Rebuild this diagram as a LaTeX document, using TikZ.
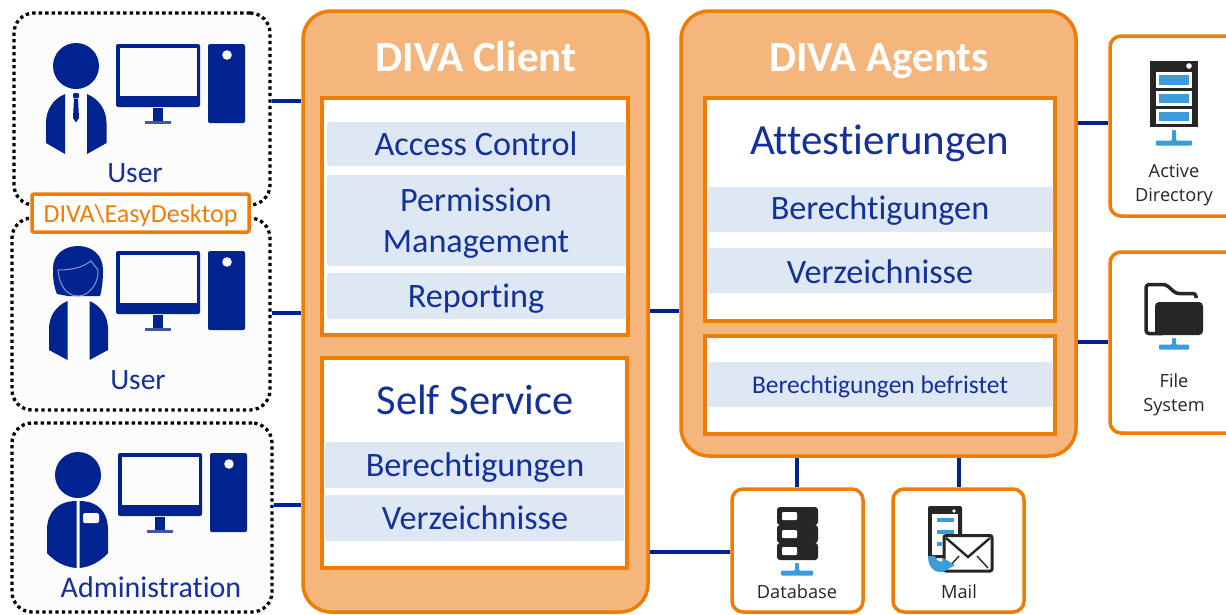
\documentclass[tikz,border=0pt]{standalone}
\usepackage{fontspec}
\setmainfont[Ligatures=NoCommon]{Carlito}
\newfontfamily\iconlabel{Open Sans}
\definecolor{frameorange}{HTML}{F17C05}
\definecolor{panelfill}{HTML}{F4B67C}
\definecolor{barfill}{HTML}{DDE8F4}
\definecolor{navyicon}{HTML}{00238F}
\definecolor{navytext}{HTML}{14309A}
\definecolor{darkicon}{HTML}{262626}
\definecolor{netblue}{HTML}{3C9BD9}
\definecolor{softwhite}{HTML}{FCFCFD}
\newcommand{\fsz}[1]{\fontsize{#1}{#1}\selectfont}
% name, style, x1, y1, x2, y2
\newcommand{\boxat}[7][]{%
  \pgfmathsetmacro{\bw}{#5-#3}\pgfmathsetmacro{\bh}{#6-#4}%
  \pgfmathsetmacro{\bx}{(#3+#5)/2}\pgfmathsetmacro{\by}{(#4+#6)/2}%
  \node[#2,minimum width=\bw pt,minimum height=\bh pt,#1] (#7) at (\bx,\by) {};}
\newcommand{\netglyph}[4]{%
  \fill[netblue,rounded corners=0.8] (#1-2,#2) -- (#1+2,#2) -- (#1+2,#3-2.5) -- (#1+#4,#3-2.5) -- (#1+#4,#3+2.5) -- (#1-#4,#3+2.5) -- (#1-#4,#3-2.5) -- (#1-2,#3-2.5) -- cycle;}
\tikzset{
  x=1pt,y=-1pt,
  userframe/.style={draw=black,fill=softwhite,line width=3.3pt,dash pattern=on 3.3pt off 3.2pt,rounded corners=20pt,inner sep=0pt},
  panel/.style={draw=frameorange,fill=panelfill,line width=3.5pt,rounded corners=28pt,inner sep=0pt},
  section/.style={draw=frameorange,fill=white,line width=3.5pt,inner sep=0pt},
  bar/.style={fill=barfill,rounded corners=2pt,inner sep=0pt},
  source/.style={draw=frameorange,fill=white,line width=3.5pt,rounded corners=11pt,inner sep=0pt},
  tag/.style={draw=frameorange,fill=white,line width=3.5pt,rounded corners=2pt,inner sep=0pt},
  link/.style={draw=navyicon,line width=3.3pt},
  navylabel/.style={text=navytext,inner sep=0pt,align=center,anchor=base},
  panelhead/.style={text=white,inner sep=0pt,anchor=base,font=\bfseries\fsz{43}},
  iconcaption/.style={text=darkicon,inner sep=0pt,anchor=base,font=\iconlabel\fsz{18.2}},
  workstation/.pic={
    \fill[navyicon,rounded corners=2pt] (116,44) rectangle (200,107);
    \fill[softwhite] (120,48) rectangle (197,96);
    \fill[navyicon] (153,108) rectangle (163,121);
    \fill[navyicon,opacity=.75] (145,121) rectangle (171,123.5);
    \fill[navyicon,rounded corners=1.5pt] (208,44) rectangle (245,123);
    \fill[softwhite] (227,55) circle (4.8);
  }
}
\begin{document}
\begin{tikzpicture}
\useasboundingbox (0,0) rectangle (1226,614);
\clip (0,0) rectangle (1226,614);
\fill[white] (0,0) rectangle (1226,614);

% user frames
\boxat{userframe}{14}{13}{270}{205}{userA}
\boxat{userframe}{12}{218}{270}{410}{userB}
\boxat{userframe}{12}{423}{272}{612}{admin}

% panels
\boxat{panel}{303}{11}{648}{612}{client}
\boxat{panel}{681}{11}{1076}{456}{agents}
\boxat{section}{322}{98}{628}{335}{clientA}
\boxat{section}{322}{358}{627}{568}{clientB}
\boxat{section}{705}{98}{1055}{321}{agentsA}
\boxat{section}{705}{336}{1055}{434}{agentsB}

% bars
\boxat{bar}{327}{122}{626}{166}{barAccess}
\boxat{bar}{327}{175}{626}{266}{barPerm}
\boxat{bar}{327}{273}{626}{319}{barRep}
\boxat{bar}{325}{442}{624}{488}{barBer}
\boxat{bar}{325}{495}{624}{541}{barVer}
\boxat{bar}{708}{187}{1053}{232}{barBerA}
\boxat{bar}{708}{248}{1053}{293}{barVerA}
\boxat{bar}{708}{362}{1053}{407}{barBef}

% source boxes
\boxat{source}{1110}{36}{1260}{216}{ad}
\boxat{source}{1110}{252}{1260}{433}{fs}
\boxat{source}{732}{489}{863}{612}{db}
\boxat{source}{893}{489}{1024}{612}{mail}
\boxat{tag}{32}{194}{249}{232}{easy}

% connector heights and columns
\coordinate (rowA) at (0,101);
\coordinate (rowB) at (0,313);
\coordinate (rowC) at (0,505);
\coordinate (rowD) at (0,311);
\coordinate (rowE) at (0,552);
\coordinate (rowF) at (0,123);
\coordinate (rowG) at (0,342);
\coordinate (colA) at (797,0);
\coordinate (colB) at (959,0);

\draw[link] (userA.east |- rowA) -- (client.west |- rowA);
\draw[link] (userB.east |- rowB) -- (client.west |- rowB);
\draw[link] (admin.east |- rowC) -- (client.west |- rowC);
\draw[link] (client.east |- rowD) -- (agents.west |- rowD);
\draw[link] (client.east |- rowE) -- (db.west |- rowE);
\draw[link] (agents.east |- rowF) -- (ad.west |- rowF);
\draw[link] (agents.east |- rowG) -- (fs.west |- rowG);
\draw[link] (agents.south -| colA) -- (db.north -| colA);
\draw[link] (agents.south -| colB) -- (mail.north -| colB);

% panel texts
\node[panelhead] (tClient) at (476,71) {DIVA Client};
\node[panelhead] (tAgents) at (879,71) {DIVA Agents};
\node[navylabel,font=\fsz{34.2}] (tAccess) at (476,155.5) {Access Control};
\node[navylabel,font=\fsz{34.2}] (tPerm) at (476,211.5) {Permission};
\node[navylabel,font=\fsz{34.2}] (tMan) at (476,252.5) {Management};
\node[navylabel,font=\fsz{34.2}] (tRep) at (476,307.5) {Reporting};
\node[navylabel,font=\fsz{42.5}] (tSelf) at (475,414) {Self Service};
\node[navylabel,font=\fsz{34.2}] (tBer) at (475,476.5) {Berechtigungen};
\node[navylabel,font=\fsz{34.2}] (tVer) at (475,529.5) {Verzeichnisse};
\node[navylabel,font=\fsz{43}] (tAtt) at (879.5,154) {Attestierungen};
\node[navylabel,font=\fsz{34.2}] (tBerA) at (880,219.5) {Berechtigungen};
\node[navylabel,font=\fsz{34.2}] (tVerA) at (880,283.5) {Verzeichnisse};
\node[navylabel,font=\fsz{25.5}] (tBef) at (880,393) {Berechtigungen befristet};
\node[navylabel,text=frameorange,font=\fsz{26}] (tEasy) at (140.5,222) {DIVA\textbackslash EasyDesktop};
\node[navylabel,font=\fsz{29.5}] (tUserA) at (135,182.5) {User};
\node[navylabel,font=\fsz{29.5}] (tUserB) at (138,389) {User};
\node[navylabel,font=\fsz{30}] (tAdmin) at (151,597.5) {Administration};

\node[iconcaption] (cAd) at (1174,177) {Active};
\node[iconcaption] (cAd2) at (1174,201) {Directory};
\node[iconcaption] (cFs) at (1174,387) {File};
\node[iconcaption] (cFs2) at (1174,411) {System};
\node[iconcaption] (cDb) at (797,598) {Database};
\node[iconcaption] (cMail) at (959,598) {Mail};

% workstations
\pic at (0,0) {workstation};
\pic at (0,207) {workstation};
\pic at (2,409) {workstation};

% man with tie
\fill[navyicon] (76,66) circle (23);
\fill[navyicon] (65,94) -- (65,154) -- (46,143) -- (46,123) .. controls (46,110) and (53,99) .. (65,94) -- cycle;
\fill[navyicon] (87,94) -- (87,154) -- (106.5,143) -- (106.5,123) .. controls (106.5,110) and (99,99) .. (87,94) -- cycle;
\fill[navyicon,rounded corners=1pt] (73,93) rectangle (79,98);
\fill[navyicon] (74,98.5) -- (78,98.5) -- (79,118) -- (76,122.5) -- (73,118) -- cycle;

% woman
\fill[navyicon] (57,294) .. controls (53,285) and (53,275) .. (53,268) .. controls (53,254) and (65,246) .. (78,246) .. controls (92,246) and (103,255) .. (103,270) .. controls (103,280) and (102,290) .. (100,296) -- (88,296) -- (68,296) -- cycle;
\draw[softwhite!55!navyicon,line width=1pt,fill=navyicon] (58,270) .. controls (70,270) and (82,268) .. (91,261) -- (98,270) .. controls (99,282) and (90,296) .. (78,296) .. controls (66,296) and (59,284) .. (58,270) -- cycle;
\fill[navyicon] (67.5,301) -- (67.5,360) -- (49,350) -- (49,329) .. controls (49,316) and (56,306) .. (67.5,301) -- cycle;
\fill[navyicon] (89.5,301) -- (89.5,360) -- (108,350) -- (108,329) .. controls (108,316) and (101,306) .. (89.5,301) -- cycle;

% administrator
\fill[navyicon] (78,475) circle (23);
\fill[navyicon] (76.5,501) .. controls (58,501) and (47,512) .. (47,530) -- (47,553) .. controls (55,562) and (65,567) .. (76.5,568) -- cycle;
\fill[navyicon] (79.5,501) .. controls (98,501) and (108,512) .. (108,530) -- (108,553) .. controls (100,562) and (90,567) .. (79.5,568) -- cycle;
\fill[softwhite,rounded corners=1.5pt] (83,513) rectangle (99,523);

% Active Directory icon
\fill[darkicon] (1150,61) rectangle (1198,127);
\fill[white] (1189,66) circle (2.8);
\foreach \ya/\yb in {72/88,91/106,109/124}{
  \fill[white] (1156,\ya) rectangle (1192,\yb);
  \fill[netblue] (1159,\ya+2.5) rectangle (1189,\yb-3);
}
\netglyph{1174}{130}{143}{18}

% folder icon
\draw[darkicon,line width=3.5pt,line join=round,rounded corners=3pt] (1162,333.5) -- (1146,333.5) -- (1146,284.5) -- (1166,284.5) -- (1176,293.5) -- (1196,293.5) -- (1196,298);
\fill[darkicon,rounded corners=4pt] (1155,302) rectangle (1203,335);
\netglyph{1174}{338}{347}{15}

% database icon
\foreach \ya/\yb in {507/525,525/543,543/560}{
  \fill[darkicon,rounded corners=3pt] (777,\ya) rectangle (818,\yb);
}
\foreach \ya in {512,530,547}{
  \fill[white,rounded corners=1pt] (782,\ya) rectangle (797,\ya+8);
}
\netglyph{797}{563}{573}{16}

% mail icon
\fill[darkicon,rounded corners=2pt] (928,506) rectangle (962,558);
\fill[white] (932,514) rectangle (958,555);
\fill[white] (954,511) circle (1.8);
\fill[netblue] (937,518) rectangle (954,522);
\fill[netblue] (937,530) rectangle (954,534);
\fill[netblue] (937,542) rectangle (942,546);
\draw[darkicon,line width=3pt,fill=white,rounded corners=2pt] (944,535.5) rectangle (992,571);
\draw[darkicon,line width=2.4pt] (946,538) -- (968,557) -- (990,538);
\draw[darkicon,line width=1.4pt] (948,568) -- (959,556);
\draw[darkicon,line width=1.4pt] (988,568) -- (977,556);
\fill[netblue] (928,556) -- (935,556) .. controls (936,560) and (939,562) .. (942,562) -- (943,558) -- (955,565) -- (943,572) .. controls (935,573) and (928,568) .. (928,556) -- cycle;
\end{tikzpicture}
\end{document}
